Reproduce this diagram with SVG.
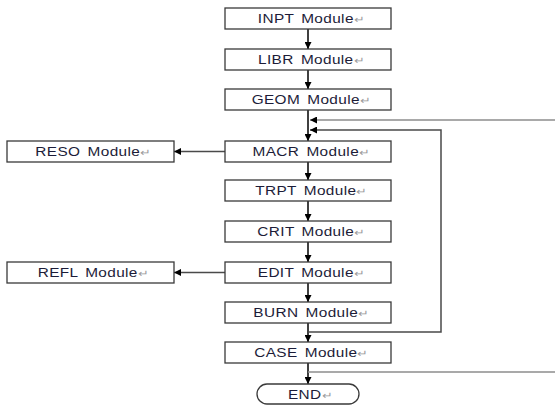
<svg xmlns="http://www.w3.org/2000/svg" width="555" height="405" viewBox="0 0 555 405">
<style>
.box{fill:#fff;stroke:#3a3a3a;stroke-width:1.3}
.t{font-family:"Liberation Sans",Arial,sans-serif;font-size:12px;fill:#1c1c38;text-anchor:middle;letter-spacing:0.3px;word-spacing:2px}
.pm{fill:#9a9a9a;font-size:10px}
.main{stroke:#000;stroke-width:1.5;fill:none}
.loop{stroke:#4a4a4a;stroke-width:1.5;fill:none}
.out{stroke:#8c8c8c;stroke-width:1.5;fill:none}
</style>
<defs>
<marker id="ah" viewBox="0 0 10 10" refX="10" refY="5" markerWidth="7" markerHeight="7" markerUnits="userSpaceOnUse" orient="auto">
<path d="M0,0 L10,5 L0,10 z" fill="#000"/>
</marker>
</defs>
<g id="connectors">
<line class="main" x1="308" y1="29" x2="308" y2="49" marker-end="url(#ah)"/>
<line class="main" x1="308" y1="70" x2="308" y2="89" marker-end="url(#ah)"/>
<line class="main" x1="308" y1="110" x2="308" y2="141" marker-end="url(#ah)"/>
<line class="main" x1="308" y1="162" x2="308" y2="180" marker-end="url(#ah)"/>
<line class="main" x1="308" y1="201" x2="308" y2="221" marker-end="url(#ah)"/>
<line class="main" x1="308" y1="242" x2="308" y2="262" marker-end="url(#ah)"/>
<line class="main" x1="308" y1="283" x2="308" y2="302" marker-end="url(#ah)"/>
<line class="main" x1="308" y1="323" x2="308" y2="342" marker-end="url(#ah)"/>
<line class="main" x1="308" y1="363" x2="308" y2="384" marker-end="url(#ah)"/>
<line class="loop" x1="225" y1="151.5" x2="174" y2="151.5" marker-end="url(#ah)"/>
<line class="loop" x1="225" y1="272.5" x2="174" y2="272.5" marker-end="url(#ah)"/>
<polyline class="loop" points="308,332 441,332 441,130 310,130" marker-end="url(#ah)"/>
<line class="out" x1="555" y1="120" x2="310" y2="120" marker-end="url(#ah)"/>
<line class="out" x1="308" y1="372" x2="555" y2="372"/>
</g>
<g id="inpt"><rect class="box" x="225" y="8" width="166" height="21"/><text class="t" transform="translate(311,23) scale(1.28,1)">INPT Module<tspan class="pm">↵</tspan></text></g>
<g id="libr"><rect class="box" x="225" y="49" width="166" height="21"/><text class="t" transform="translate(311,64) scale(1.28,1)">LIBR Module<tspan class="pm">↵</tspan></text></g>
<g id="geom"><rect class="box" x="225" y="89" width="166" height="21"/><text class="t" transform="translate(311,104) scale(1.28,1)">GEOM Module<tspan class="pm">↵</tspan></text></g>
<g id="macr"><rect class="box" x="225" y="141" width="166" height="21"/><text class="t" transform="translate(311,156) scale(1.28,1)">MACR Module<tspan class="pm">↵</tspan></text></g>
<g id="reso"><rect class="box" x="7" y="141" width="167" height="21"/><text class="t" transform="translate(93,156) scale(1.28,1)">RESO Module<tspan class="pm">↵</tspan></text></g>
<g id="trpt"><rect class="box" x="225" y="180" width="166" height="21"/><text class="t" transform="translate(311,195) scale(1.28,1)">TRPT Module<tspan class="pm">↵</tspan></text></g>
<g id="crit"><rect class="box" x="225" y="221" width="166" height="21"/><text class="t" transform="translate(311,236) scale(1.28,1)">CRIT Module<tspan class="pm">↵</tspan></text></g>
<g id="edit"><rect class="box" x="225" y="262" width="166" height="21"/><text class="t" transform="translate(311,277) scale(1.28,1)">EDIT Module<tspan class="pm">↵</tspan></text></g>
<g id="refl"><rect class="box" x="7" y="262" width="167" height="21"/><text class="t" transform="translate(93,277) scale(1.28,1)">REFL Module<tspan class="pm">↵</tspan></text></g>
<g id="burn"><rect class="box" x="225" y="302" width="166" height="21"/><text class="t" transform="translate(311,317) scale(1.28,1)">BURN Module<tspan class="pm">↵</tspan></text></g>
<g id="case"><rect class="box" x="225" y="342" width="166" height="21"/><text class="t" transform="translate(311,357) scale(1.28,1)">CASE Module<tspan class="pm">↵</tspan></text></g>
<g id="end"><rect class="box" x="257" y="384" width="102" height="20" rx="10" ry="10"/><text class="t" transform="translate(310,398.5) scale(1.28,1)">END<tspan class="pm">↵</tspan></text></g>
</svg>
